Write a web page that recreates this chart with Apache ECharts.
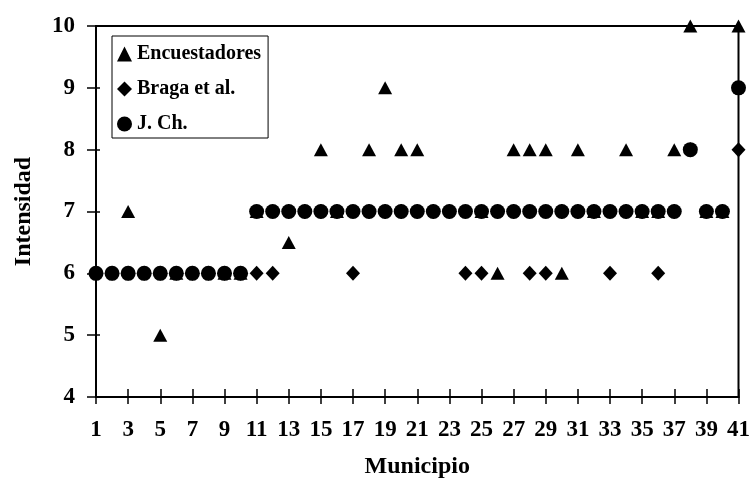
<!DOCTYPE html>
<html>
<head>
<meta charset="utf-8">
<script src="https://cdn.jsdelivr.net/npm/echarts@6/dist/echarts.min.js"></script>
<style>
  html, body { margin: 0; padding: 0; background: #fff; }
  #chart { width: 753px; height: 486px; }
</style>
</head>
<body>
<div id="chart"></div>
<script>
const municipios = [1, 2, 3, 4, 5, 6, 7, 8, 9, 10, 11, 12, 13, 14, 15, 16, 17, 18, 19, 20,
  21, 22, 23, 24, 25, 26, 27, 28, 29, 30, 31, 32, 33, 34, 35, 36, 37, 38, 39, 40, 41]
// null = no visible mark in the original
const encuestadores = [null, null, 7, null, 5, 6, null, null, 6, 6,
  7, null, 6.5, null, 8, 7, null, 8, 9, 8,
  8, null, null, null, 7, 6, 8, 8, 8, 6,
  8, 7, null, 8, 7, 7, 8, 10, 7, 7, 10]
const braga = [6, 6, 6, 6, 6, 6, 6, 6, 6, 6,
  6, 6, 7, 7, 7, 7, 6, 7, 7, 7,
  7, 7, 7, 6, 6, 7, 7, 6, 6, 7,
  7, 7, 6, 7, 7, 6, 7, 8, 7, 7, 8]
const jch = [6, 6, 6, 6, 6, 6, 6, 6, 6, 6,
  7, 7, 7, 7, 7, 7, 7, 7, 7, 7,
  7, 7, 7, 7, 7, 7, 7, 7, 7, 7,
  7, 7, 7, 7, 7, 7, 7, 8, 7, 7, 9]

function pairs(values) {
  let out = []
  values.forEach((v, i) => {
    if (v !== null) out.push([municipios[i], v])
  })
  return out
}

const font = "'Liberation Serif', 'Times New Roman', serif"

let myChart = echarts.init(document.getElementById('chart'))
myChart.setOption({
  animation: false,
  textStyle: { fontFamily: font },
  grid: {
    left: 96,
    right: 12,
    top: 26,
    bottom: 89,
    show: true,
    borderColor: '#000',
    borderWidth: 2
  },
  legend: {
    orient: 'vertical',
    left: 112,
    top: 36,
    padding: [8, 7, 4, 5],
    itemGap: 15,
    itemWidth: 15,
    itemHeight: 15,
    borderColor: '#000',
    borderWidth: 1,
    backgroundColor: '#fff',
    textStyle: {
      fontFamily: font,
      fontWeight: 'bold',
      fontSize: 20,
      color: '#000'
    },
    data: [
      { name: 'Encuestadores', icon: 'triangle' },
      { name: 'Braga et al.', icon: 'diamond' },
      { name: 'J. Ch.', icon: 'circle' }
    ]
  },
  xAxis: [
    {
      type: 'value',
      min: 1,
      max: 41,
      interval: 2,
      name: 'Municipio',
      nameLocation: 'middle',
      nameGap: 58,
      nameTextStyle: { fontFamily: font, fontWeight: 'bold', fontSize: 24, color: '#000' },
      splitLine: { show: false },
      axisLine: { lineStyle: { color: '#000', width: 2 } },
      axisTick: { length: 7, lineStyle: { color: '#000', width: 1.5 } },
      axisLabel: { margin: 22, fontFamily: font, fontWeight: 'bold', fontSize: 23, color: '#000' }
    },
    {
      type: 'value',
      position: 'bottom',
      min: 1,
      max: 41,
      interval: 2,
      splitLine: { show: false },
      axisLine: { show: false },
      axisTick: { inside: true, length: 8, lineStyle: { color: '#000', width: 1.5 } },
      axisLabel: { show: false }
    }
  ],
  yAxis: [
    {
      type: 'value',
      min: 4,
      max: 10,
      interval: 1,
      name: 'Intensidad',
      nameLocation: 'middle',
      nameGap: 60,
      nameTextStyle: { fontFamily: font, fontWeight: 'bold', fontSize: 24, color: '#000' },
      splitLine: { show: false },
      axisLine: { show: true, lineStyle: { color: '#000', width: 2 } },
      axisTick: { show: true, length: 9, lineStyle: { color: '#000', width: 1.5 } },
      axisLabel: { margin: 21, fontFamily: font, fontWeight: 'bold', fontSize: 23, color: '#000' }
    },
    {
      type: 'value',
      position: 'left',
      min: 4,
      max: 10,
      interval: 1,
      splitLine: { show: false },
      axisLine: { show: false },
      axisTick: { show: true, inside: true, length: 4, lineStyle: { color: '#000', width: 1.5 } },
      axisLabel: { show: false }
    }
  ],
  series: [
    {
      name: 'Encuestadores',
      type: 'scatter',
      symbol: 'triangle',
      symbolSize: [14, 13],
      clip: false,
      itemStyle: { color: '#000', opacity: 1 },
      data: pairs(encuestadores)
    },
    {
      name: 'Braga et al.',
      type: 'scatter',
      symbol: 'diamond',
      symbolSize: [14, 15],
      clip: false,
      itemStyle: { color: '#000', opacity: 1 },
      data: pairs(braga)
    },
    {
      name: 'J. Ch.',
      type: 'scatter',
      symbol: 'circle',
      symbolSize: 15,
      clip: false,
      itemStyle: { color: '#000', opacity: 1 },
      data: pairs(jch)
    }
  ]
})
</script>
</body>
</html>
